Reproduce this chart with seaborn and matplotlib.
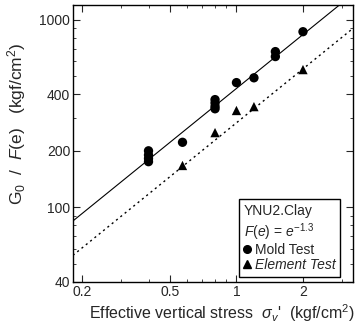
import numpy as np
import pandas as pd
import matplotlib
matplotlib.use('Agg')
import matplotlib.pyplot as plt
from matplotlib.lines import Line2D
from matplotlib.ticker import FixedLocator, FixedFormatter, LogLocator, NullFormatter
import seaborn as sns

# Mold test points (sigma_v', G0/F(e))
mold_stress = [0.4, 0.4, 0.4, 0.4, 0.57, 0.8, 0.8, 0.8, 0.8, 1.0, 1.2, 1.5, 1.5, 2.0]
mold_g = [200, 190, 182, 175, 222, 375, 360, 345, 335, 462, 490, 676, 636, 863]

# Element test points
elem_stress = [0.57, 0.8, 1.0, 1.2, 2.0]
elem_g = [167, 250, 328, 344, 542]

# fitted lines G0/F(e) = A * sigma^n
fit_n = 0.955
fit_a_mold = 430
fit_a_elem = 282

x_ticks = [0.2, 0.5, 1, 2]
y_ticks = [40, 100, 200, 400, 1000]

sns.set_style('ticks')
plt.rcParams['font.family'] = ['Liberation Sans', 'DejaVu Sans']
plt.rcParams['mathtext.fontset'] = 'custom'
plt.rcParams['mathtext.rm'] = 'Liberation Sans'
plt.rcParams['mathtext.it'] = 'Liberation Sans:italic'

df = pd.DataFrame({
    'stress': mold_stress + elem_stress,
    'g': mold_g + elem_g,
    'test': ['Mold Test'] * len(mold_stress) + ['Element Test'] * len(elem_stress),
})

xs = np.geomspace(0.182, 3.37, 50)
lines = pd.DataFrame({
    'stress': np.concatenate([xs, xs]),
    'g': np.concatenate([fit_a_mold * xs ** fit_n, fit_a_elem * xs ** fit_n]),
    'fit': ['mold'] * len(xs) + ['elem'] * len(xs),
})

fig = plt.figure(figsize=(3.61, 3.24), dpi=100)
ax = fig.add_axes([0.202, 0.13, 0.776, 0.855])
ax.set_xscale('log')
ax.set_yscale('log')

sns.lineplot(data=lines[lines.fit == 'mold'], x='stress', y='g', color='black', lw=0.8, ax=ax)
sns.lineplot(data=lines[lines.fit == 'elem'], x='stress', y='g', color='black', lw=1.0,
             linestyle=(0, (1.5, 2.5)), ax=ax)
sns.scatterplot(data=df, x='stress', y='g', style='test', hue='test',
                palette={'Mold Test': 'black', 'Element Test': 'black'},
                markers={'Mold Test': 'o', 'Element Test': '^'}, s=45, linewidth=0,
                legend=False, ax=ax)

ax.set_xlim(0.182, 3.37)
ax.set_ylim(40, 1200)
ax.xaxis.set_major_locator(FixedLocator(x_ticks))
ax.xaxis.set_major_formatter(FixedFormatter([str(t) for t in x_ticks]))
ax.xaxis.set_minor_locator(LogLocator(base=10, subs=np.arange(2, 10)))
ax.xaxis.set_minor_formatter(NullFormatter())
ax.yaxis.set_major_locator(FixedLocator(y_ticks))
ax.yaxis.set_major_formatter(FixedFormatter([str(t) for t in y_ticks]))
ax.yaxis.set_minor_locator(LogLocator(base=10, subs=np.arange(2, 10)))
ax.yaxis.set_minor_formatter(NullFormatter())
ax.tick_params(which='both', direction='in', top=True, right=True, labelsize=10, pad=2)
ax.tick_params(which='major', length=5)
ax.tick_params(which='minor', length=2.5)
for s in ax.spines.values():
    s.set_linewidth(1.0)
    s.set_color('black')

ax.set_xlabel(r"Effective vertical stress  $\sigma_v$'  (kgf/cm$^2$)", fontsize=11.5)
ax.set_ylabel(r"G$_0$  /  $F$(e)   (kgf/cm$^2$)", fontsize=12.5)
ax.xaxis.set_label_coords(0.532, -0.075)
ax.yaxis.set_label_coords(-0.16, 0.572)

handles = [Line2D([], [], marker='o', color='black', ls='none', markersize=5.5),
           Line2D([], [], marker='^', color='black', ls='none', markersize=5.5)]
leg = ax.legend(handles, ['Mold Test', 'Element Test'],
                title="YNU2.Clay\n$F(e)$ = $e^{-1.3}$", alignment='left',
                loc='lower right', bbox_to_anchor=(0.955, 0.018), borderaxespad=0,
                fontsize=10, title_fontsize=10, handlelength=0.5, handletextpad=0.3,
                borderpad=0.35, labelspacing=0.05, frameon=True, fancybox=False,
                edgecolor='black', framealpha=1)
leg.get_frame().set_linewidth(1.0)
leg.get_texts()[1].set_style('italic')

fig.savefig('out.png', dpi=100)
